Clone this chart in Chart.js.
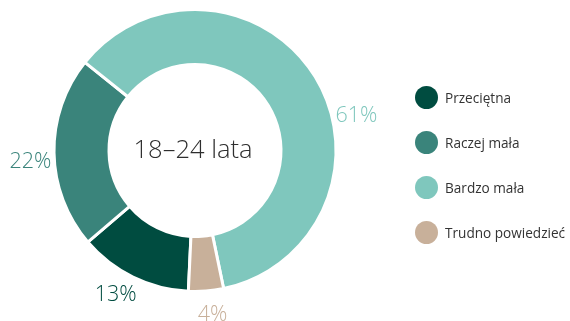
<!DOCTYPE html>
<html lang="pl">
<head>
<meta charset="utf-8">
<script src="https://cdn.jsdelivr.net/npm/chart.js@4.4.0/dist/chart.umd.min.js"></script>
<style>
  html, body { margin: 0; padding: 0; background: #fff; }
  #wrap { position: relative; width: 570px; height: 321px; overflow: hidden; }
  #legend { position: absolute; left: 415px; top: 86px; font-family: "Open Sans", sans-serif; font-weight: 400; font-size: 13.6px; color: #333333; }
  #legend .item { display: flex; align-items: center; height: 23px; margin-bottom: 22px; white-space: nowrap; }
  #legend .dot { width: 23px; height: 23px; border-radius: 50%; margin-right: 7px; flex: none; }
</style>
</head>
<body>
<div id="wrap">
  <canvas id="donut" width="570" height="321"></canvas>
  <div id="legend"></div>
</div>
<script>
// answers for the 18–24 group
const categories = ['Przeciętna', 'Raczej mała', 'Bardzo mała', 'Trudno powiedzieć'];
const values = [13, 22, 61, 4];
const colors = ['#004c40', '#3a847b', '#7fc7bd', '#c8b09a'];
const centerLabel = '18–24 lata';
// small angular nudges for the outside labels (degrees)
const labelShift = [2.6, -3.2, 19.4, -1.6];

// percentage labels outside the ring
const outerLabels = {
  id: 'outerLabels',
  afterDatasetsDraw(chart) {
    const ctx = chart.ctx;
    const arcs = chart.getDatasetMeta(0).data;
    ctx.save();
    ctx.font = '300 21.5px "Open Sans", sans-serif';
    ctx.textAlign = 'center';
    ctx.textBaseline = 'middle';
    arcs.forEach((arc, i) => {
      const p = arc.getProps(['x', 'y', 'startAngle', 'endAngle', 'outerRadius'], true);
      const mid = (p.startAngle + p.endAngle) / 2 + labelShift[i] * Math.PI / 180;
      const r = p.outerRadius + 24;
      ctx.fillStyle = colors[i];
      ctx.fillText(values[i] + '%', p.x + Math.cos(mid) * r, p.y + Math.sin(mid) * r);
    });
    ctx.restore();
  }
};

// text in the hole
const centerText = {
  id: 'centerText',
  afterDatasetsDraw(chart) {
    const ctx = chart.ctx;
    const arc = chart.getDatasetMeta(0).data[0];
    ctx.save();
    ctx.font = '300 25.5px "Open Sans", sans-serif';
    ctx.fillStyle = '#2e2e2e';
    ctx.textAlign = 'center';
    ctx.textBaseline = 'middle';
    ctx.fillText(centerLabel, arc.x - 2, arc.y);
    ctx.restore();
  }
};

new Chart(document.getElementById('donut'), {
  type: 'doughnut',
  data: {
    labels: categories,
    datasets: [{
      data: values,
      backgroundColor: colors,
      borderColor: '#ffffff',
      borderWidth: 3
    }]
  },
  options: {
    responsive: false,
    animation: false,
    rotation: 182.7,
    cutout: '61%',
    layout: { padding: { left: 52.5, right: 232.5, top: 8, bottom: 28 } },
    plugins: {
      legend: { display: false },
      tooltip: { enabled: false }
    }
  },
  plugins: [outerLabels, centerText]
});

// legend on the right
const legend = document.getElementById('legend');
categories.forEach((name, i) => {
  const item = document.createElement('div');
  item.className = 'item';
  item.innerHTML = `<span class="dot" style="background:${colors[i]}"></span><span>${name}</span>`;
  legend.appendChild(item);
});
</script>
</body>
</html>
